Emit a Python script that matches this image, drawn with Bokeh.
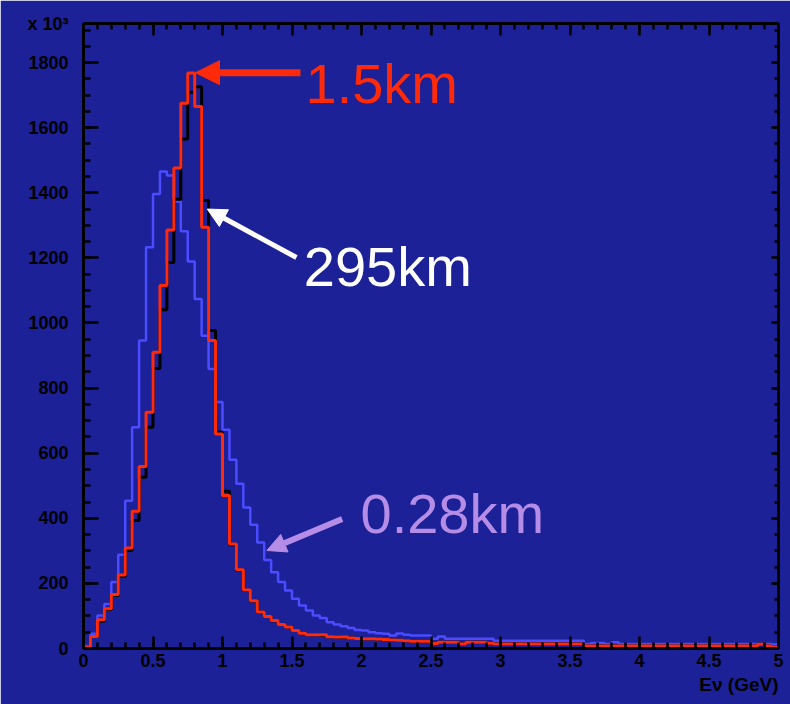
import numpy as np
from bokeh.plotting import figure
from bokeh.models import LinearAxis, FixedTicker, Label, Arrow, NormalHead, Range1d, Title
from bokeh.embed import file_html
from bokeh.resources import INLINE

# ---------------- data (events per 0.05 GeV bin, x 10^3) ----------------
bin_width = 0.05
n_bins = 100
e_min, e_max = 0.0, 5.0
y_max = 1920

flux_1p5km = [4, 37, 88, 122, 166, 226, 309, 422, 559, 726,
              910, 1115, 1286, 1476, 1675, 1768, 1665, 1294, 946, 659,
              470, 321, 242, 180, 147, 112, 98, 86, 74, 66,
              55, 47, 42, 42, 42, 36, 35, 35, 32, 31,
              30, 30, 29, 28, 26, 25, 24, 22, 22, 22,
              15, 19, 19, 19, 14, 19, 19, 19, 16, 14,
              14, 14, 14, 14, 14, 14, 14, 14, 14, 14,
              14, 14, 8, 8, 8, 8, 8, 8, 8, 8,
              8, 8, 8, 8, 8, 8, 8, 8, 8, 8,
              8, 8, 8, 8, 8, 8, 8, 13, 8, 4]

flux_295km = [4, 37, 84, 120, 163, 221, 301, 393, 526, 680,
              860, 1041, 1186, 1380, 1565, 1709, 1726, 1376, 977, 664,
              483, 319, 240, 178, 146, 112, 98, 85, 74, 66,
              55, 47, 42, 42, 41, 36, 35, 34, 32, 31,
              30, 30, 29, 28, 26, 25, 24, 22, 22, 22,
              15, 19, 19, 19, 14, 19, 19, 19, 16, 14,
              14, 14, 14, 14, 14, 14, 14, 14, 14, 14,
              14, 14, 8, 8, 8, 8, 8, 8, 8, 8,
              8, 8, 8, 8, 8, 8, 8, 8, 8, 8,
              8, 8, 8, 8, 8, 8, 8, 13, 8, 4]

flux_0p28km = [8, 45, 101, 137, 204, 288, 454, 680, 946, 1233,
               1396, 1465, 1453, 1373, 1282, 1189, 1074, 961, 859, 757,
               672, 580, 506, 433, 380, 326, 272, 234, 204, 178,
               153, 132, 117, 101, 94, 81, 74, 68, 63, 57,
               55, 50, 47, 45, 40, 46, 42, 40, 40, 40,
               30, 37, 30, 30, 30, 30, 30, 30, 30, 24,
               24, 24, 24, 24, 24, 24, 24, 24, 24, 24,
               24, 24, 14, 17, 17, 14, 19, 14, 14, 14,
               14, 14, 14, 14, 14, 14, 14, 14, 14, 14,
               14, 14, 14, 14, 14, 14, 14, 14, 14, 12]

x_major = [0, 0.5, 1, 1.5, 2, 2.5, 3, 3.5, 4, 4.5, 5]
y_major = [0, 200, 400, 600, 800, 1000, 1200, 1400, 1600, 1800]
y_multiplier = "x 10³"
x_title = "Eν (GeV)"

labels = ["1.5km", "295km", "0.28km"]

# ---------------- styling ----------------
BG = "#1c2197"
RED = "#ff2a0a"
BLUE = "#4b4bff"
LAV = "#b58ce6"
FONT = "Liberation Sans"

edges = [round(e_min + bin_width * i, 4) for i in range(n_bins + 1)]


def step_xy(vals):
    xs = [e_min] + edges
    ys = [0] + list(vals) + [vals[-1]]
    return xs, ys


p = figure(frame_width=695, frame_height=625,
           x_range=Range1d(e_min, e_max), y_range=Range1d(0, y_max),
           output_backend="svg", toolbar_location=None,
           min_border_left=83, min_border_top=23, min_border_right=12, min_border_bottom=56,
           background_fill_color=BG, border_fill_color=BG)
p.outline_line_color = None
p.xgrid.visible = False
p.ygrid.visible = False

x_minor = [round(0.1 * i, 2) for i in range(51)]
y_minor = list(range(0, y_max + 1, 50))


def style_axis(ax, ticker, major_in, minor_in, standoff, overrides=None):
    ax.ticker = ticker
    ax.axis_line_color = "black"
    ax.axis_line_width = 3
    ax.major_tick_line_color = "black"
    ax.minor_tick_line_color = "black"
    ax.major_tick_line_width = 2.5
    ax.minor_tick_line_width = 2.5
    ax.major_tick_in = major_in
    ax.major_tick_out = 0
    ax.minor_tick_in = minor_in
    ax.minor_tick_out = 0
    ax.major_label_standoff = standoff
    ax.major_label_text_font = FONT
    ax.major_label_text_font_style = "bold"
    ax.major_label_text_color = "black"
    ax.major_label_text_font_size = "18px"
    if overrides is not None:
        ax.major_label_overrides = overrides


style_axis(p.xaxis[0], FixedTicker(ticks=x_major, minor_ticks=x_minor), 12, 6, 5)
style_axis(p.yaxis[0], FixedTicker(ticks=y_major + [y_max], minor_ticks=y_minor), 15, 7, 15,
           {y_max: y_multiplier})

top_ax = LinearAxis()
style_axis(top_ax, FixedTicker(ticks=x_major, minor_ticks=x_minor), 12, 6, 0,
           {t: "" for t in x_major})
p.add_layout(top_ax, "above")
right_ax = LinearAxis()
style_axis(right_ax, FixedTicker(ticks=y_major, minor_ticks=y_minor), 7, 4, 0,
           {t: "" for t in y_major})
p.add_layout(right_ax, "right")

# x-axis title, bottom right
p.add_layout(Title(text=x_title, align="right", text_font=FONT, text_font_size="19px",
                   text_font_style="bold", text_color="black", standoff=5), "below")

# histograms
xs, ys = step_xy(flux_0p28km)
p.step(xs, ys, mode="after", line_color=BLUE, line_width=2.5)
xs, ys = step_xy(flux_295km)
p.step(xs, ys, mode="after", line_color="black", line_width=3)
xs, ys = step_xy(flux_1p5km)
p.step(xs, ys, mode="after", line_color=RED, line_width=3)

# arrows
p.add_layout(Arrow(end=NormalHead(size=24, fill_color=RED, line_color=RED),
                   x_start=1.561, y_start=1769, x_end=0.806, y_end=1769,
                   line_color=RED, line_width=7))
p.add_layout(Arrow(end=NormalHead(size=19, fill_color="white", line_color="white"),
                   x_start=1.532, y_start=1201, x_end=0.890, y_end=1350,
                   line_color="white", line_width=5))
p.add_layout(Arrow(end=NormalHead(size=19, fill_color=LAV, line_color=LAV),
                   x_start=1.861, y_start=398, x_end=1.319, y_end=301,
                   line_color=LAV, line_width=6))

# arrow labels
for txt, x, y, col in [(labels[0], 1.597, 1671, RED),
                       (labels[1], 1.585, 1110, "white"),
                       (labels[2], 1.993, 350, LAV)]:
    p.add_layout(Label(x=x, y=y, y_offset=21, text=txt, text_font=FONT, text_font_size="56px",
                       text_color=col, text_align="left", text_baseline="alphabetic"))

open("out.html", "w").write(file_html(p, INLINE))
